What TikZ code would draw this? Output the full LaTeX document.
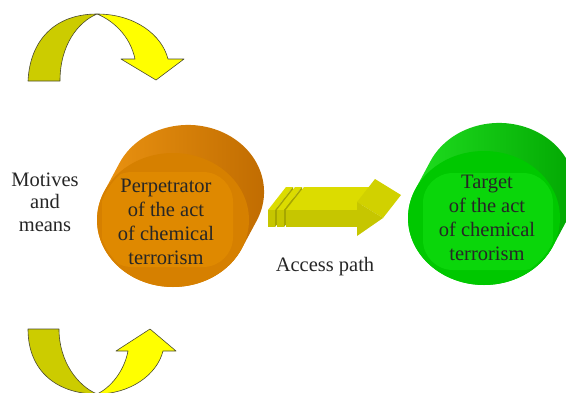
\documentclass[tikz,border=0pt]{standalone}
\usepackage{fontspec}
\setmainfont{Liberation Serif}

\definecolor{yDark}{HTML}{CCCC00}
\definecolor{yLight}{HTML}{FFFF00}
\definecolor{edge}{HTML}{4A4A30}
\definecolor{oLight}{HTML}{EE9612}
\definecolor{oDark}{HTML}{BE6A00}
\definecolor{oFace}{HTML}{D68000}
\definecolor{oInner}{HTML}{DF8900}
\definecolor{gLight}{HTML}{22E222}
\definecolor{gDark}{HTML}{00A400}
\definecolor{gFace}{HTML}{00C800}
\definecolor{gInner}{HTML}{0AD60A}
\definecolor{aTop}{HTML}{DCDC00}
\definecolor{aFront}{HTML}{C6C600}
\definecolor{aSide}{HTML}{A6A600}
\definecolor{txt}{HTML}{262626}

\tikzset{
	lbl/.style = {align = center, text = txt, inner sep = 0pt,
		font = \fontsize{20.5}{24}\selectfont},
	arcband/.style = {draw = edge, line width = 0.6pt}
}

\begin{document}
\begin{tikzpicture}[x = 1pt, y = -1pt, line join = round]

	% Frame

	\clip (0, 0) rectangle (566, 392);

	% Definitions

	\def\rx{76}		% Half width of the cylinder faces
	\def\ry{67}		% Half height of the cylinder faces
	\def\t{25.6}	% Parameter of the tangent points

	% Curved arrow, top

	\filldraw [arcband, fill = yDark] (28, 81) .. controls (30, 40) and (55, 14) .. (97, 14)
		.. controls (78, 22) and (60, 45) .. (60, 81) -- cycle;
	\filldraw [arcband, fill = yLight] (97, 14) .. controls (135, 14) and (162, 35) .. (168, 59)
		-- (184, 59) -- (156, 80) -- (121, 59) -- (135, 59)
		.. controls (130, 35) and (112, 20) .. (97, 14) -- cycle;

	% Curved arrow, bottom

	\filldraw [arcband, fill = yDark] (28, 329) .. controls (28, 372) and (58, 394) .. (97, 394)
		.. controls (78, 386) and (59, 362) .. (59, 329) -- cycle;
	\filldraw [arcband, fill = yLight] (97, 394) .. controls (130, 394) and (157, 375) .. (163, 351)
		-- (176, 351) -- (150, 329) -- (116, 351) -- (128, 351)
		.. controls (124, 372) and (110, 388) .. (97, 394) -- cycle;

	% Perpetrator cylinder

	\shade [left color = oLight, right color = oDark] (173, 220) ++ (-68.5, -29)
		arc [start angle = 180 + \t, end angle = \t, x radius = \rx, y radius = \ry] -- ++ (15, -28)
		arc [start angle = \t, end angle = \t - 180, x radius = \rx, y radius = \ry] -- cycle;
	\fill [oFace] (173, 220) ellipse [x radius = \rx, y radius = \ry];
	\begin{scope}
		\clip (173, 220) ellipse [x radius = \rx - 2, y radius = \ry - 2];
		\fill [oInner, rounded corners = 30pt] (102, 172) rectangle (233, 267);
	\end{scope}

	% Target cylinder

	\shade [left color = gLight, right color = gDark] (484, 218) ++ (-68.5, -29)
		arc [start angle = 180 + \t, end angle = \t, x radius = \rx, y radius = \ry] -- ++ (15, -28)
		arc [start angle = \t, end angle = \t - 180, x radius = \rx, y radius = \ry] -- cycle;
	\fill [gFace] (484, 218) ellipse [x radius = \rx, y radius = \ry];
	\begin{scope}
		\clip (484, 218) ellipse [x radius = \rx - 2, y radius = \ry - 2];
		\fill [gInner, rounded corners = 30pt] (423, 173) rectangle (553, 270);
	\end{scope}

	% Access path arrow (slabs, shaft, head)

	\foreach \x/\w in {268/7, 277/7}
	{
		\fill [aTop] (\x, 210) -- (\x + \w, 210) -- (\x + \w + 18, 187) -- (\x + 18, 187) -- cycle;
		\fill [aSide] (\x + \w, 210) -- (\x + \w + 18, 187) -- (\x + \w + 18, 204) -- (\x + \w, 227) -- cycle;
		\fill [aFront] (\x, 210) rectangle (\x + \w, 227);
	}

	\fill [aTop] (286, 210) -- (357, 210) -- (375, 187) -- (304, 187) -- cycle;
	\fill [aFront] (286, 210) rectangle (357, 227);
	\fill [aTop!95!black] (357, 202) -- (383, 218) -- (401, 195) -- (375, 179) -- cycle;
	\fill [aFront] (357, 202) -- (383, 218) -- (357, 236) -- cycle;

	% Labels

	\node [lbl] (perp) at (166, 222) {Perpetrator\\of the act\\of chemical\\terrorism};
	\node [lbl] (target) at (487, 218) {Target\\of the act\\of chemical\\terrorism};
	\node [lbl, font = \fontsize{20.5}{22.5}\selectfont] (motives) at (45, 202) {Motives\\and\\means};
	\node [lbl] (access) at (325, 267) {Access path};

\end{tikzpicture}
\end{document}
